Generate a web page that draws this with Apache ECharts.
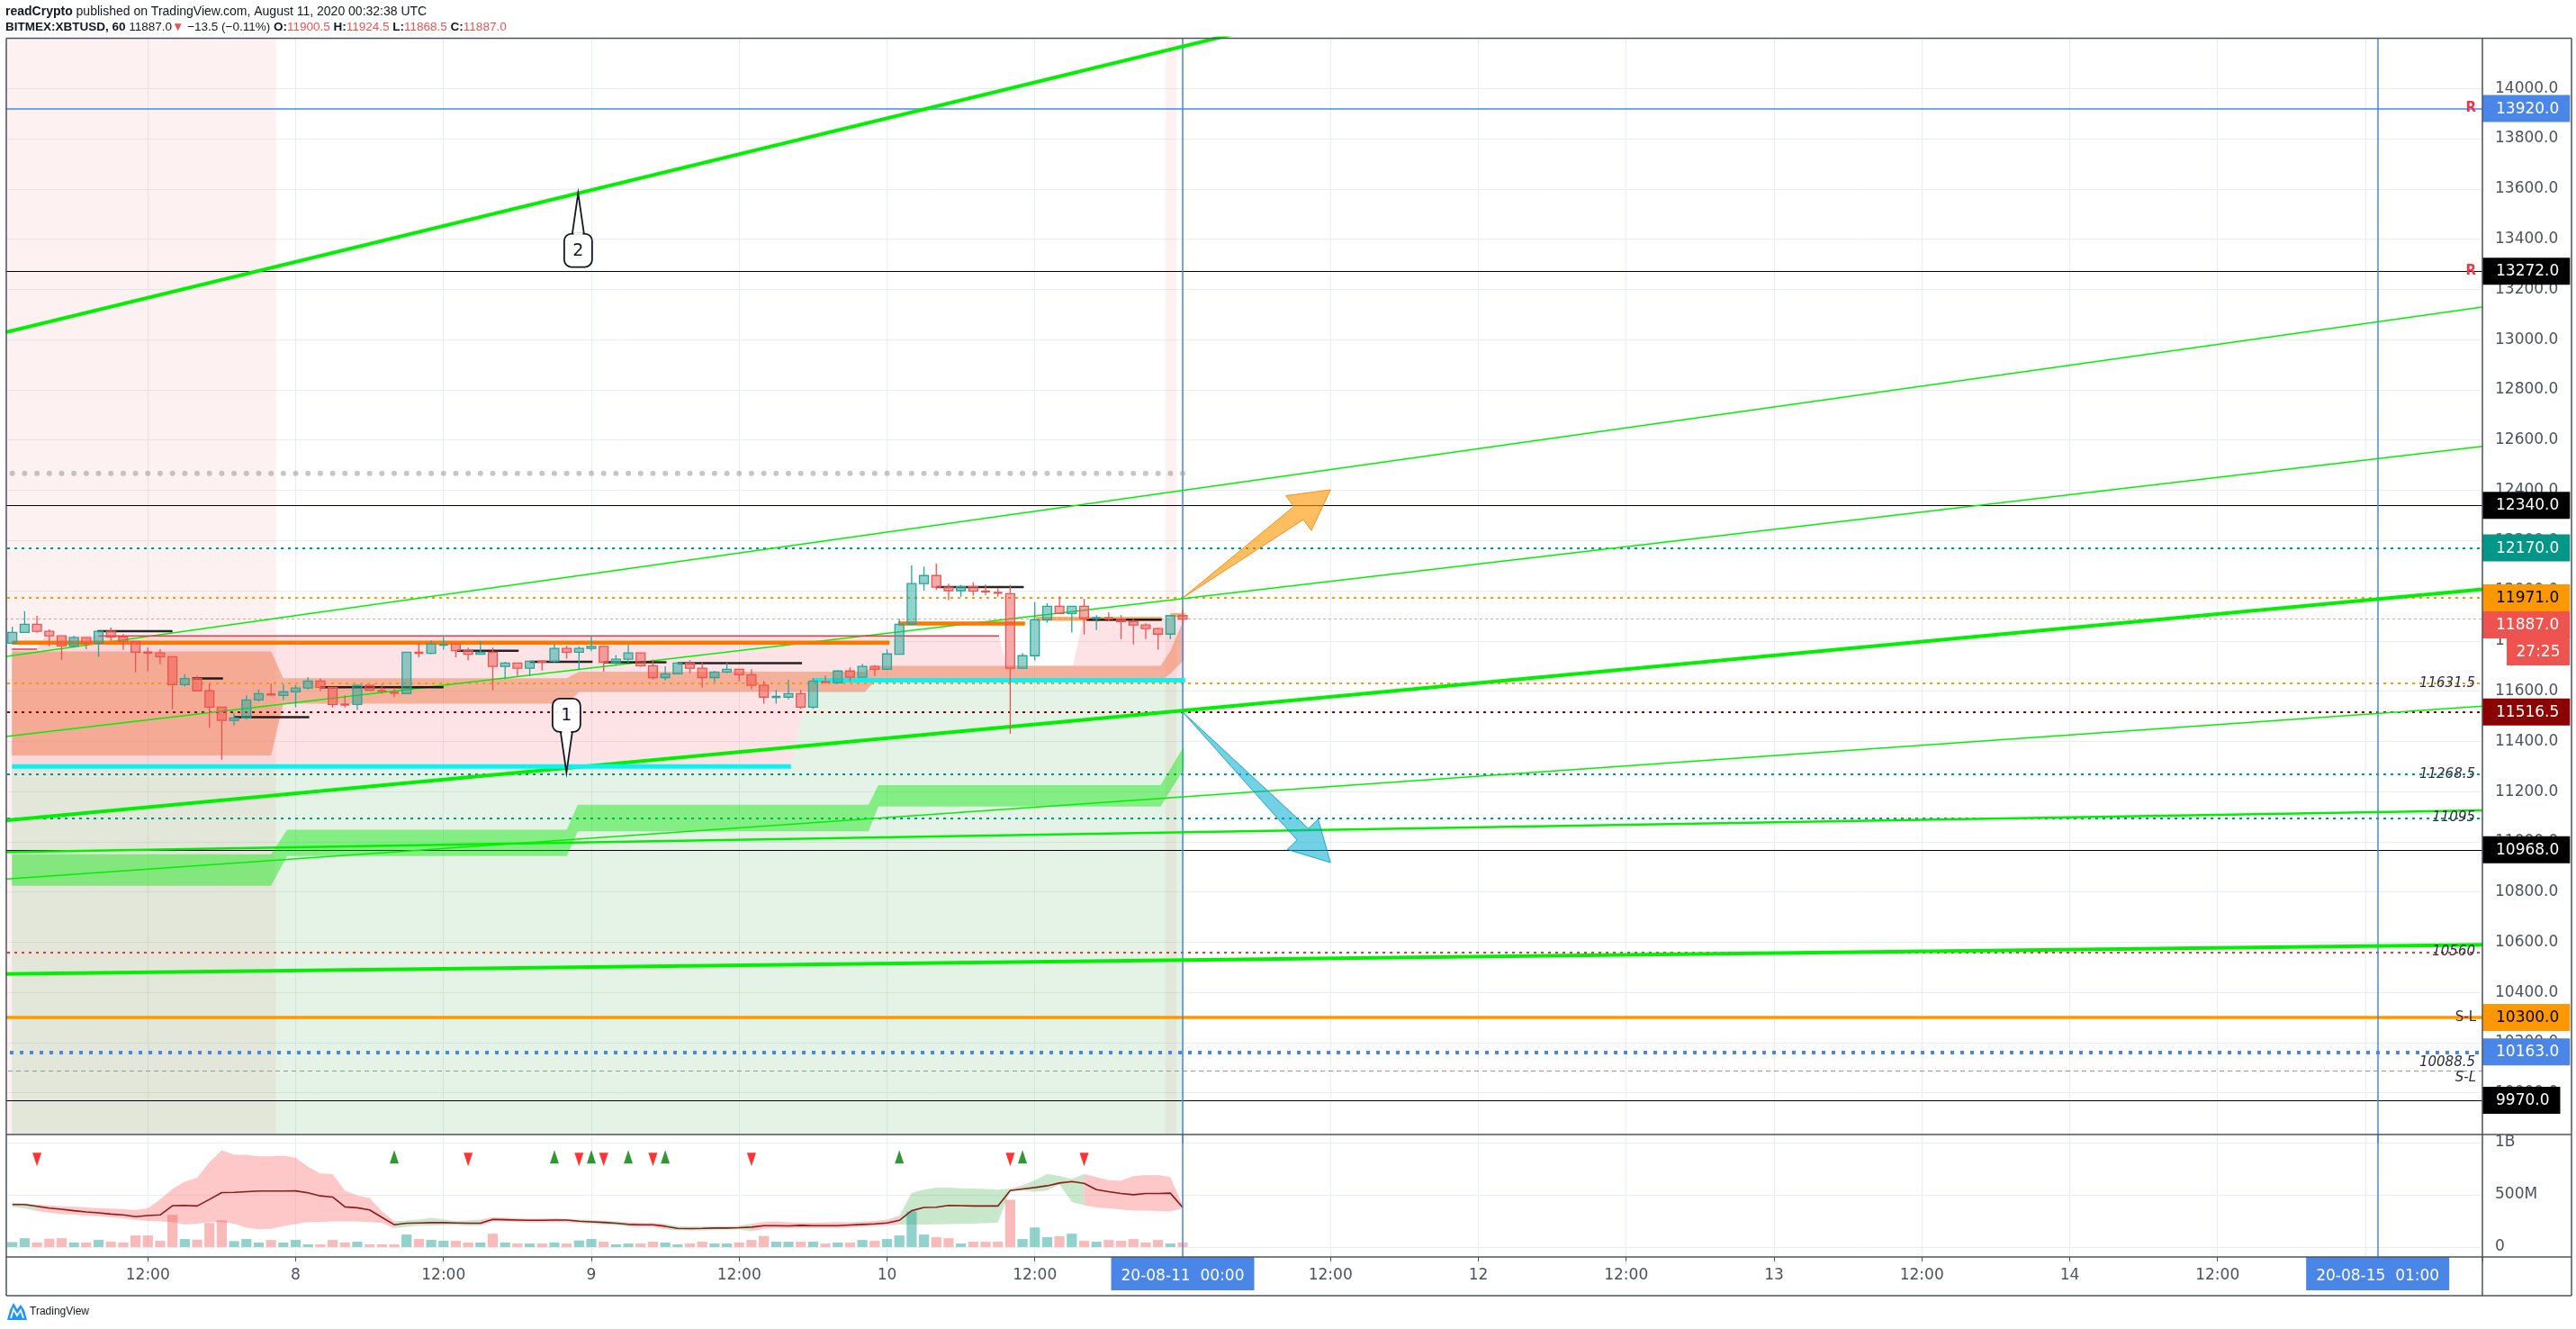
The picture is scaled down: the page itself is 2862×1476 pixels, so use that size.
<!DOCTYPE html>
<html>
<head>
<meta charset="utf-8">
<title>BITMEX:XBTUSD, 60</title>
<script src="https://cdn.jsdelivr.net/npm/echarts@6/dist/echarts.min.js"></script>
<style>
html,body{margin:0;padding:0;background:#ffffff;}
#chart{width:2862px;height:1476px;}
</style>
</head>
<body>
<div id="chart"></div>
<script>
// ================= DATA (x = hours since 2020-08-07 00:00 UTC) =================
const firstCandleHour = 1;
const opens = [11791,11834,11866,11838,11820,11780,11813,11791,11838,11816,
11798,11755,11752,11737,11626,11650,11601,11536,11483,11493,
11565,11590,11583,11597,11612,11640,11615,11547,11547,11623,
11604,11597,11590,11755,11750,11783,11787,11761,11747,11755,
11698,11712,11691,11719,11719,11770,11755,11770,11778,11715,
11727,11752,11701,11654,11669,11712,11691,11654,11676,11687,
11665,11623,11576,11576,11590,11536,11640,11633,11680,11655,
11698,11687,11747,11866,12028,12060,12014,12000,12016,12000,
11995,11988,11691,11741,11884,11938,11909,11938,11888,11893,
11886,11877,11863,11849,11827,11900.5];
const highs = [11857,11918,11900,11846,11820,11820,11813,11838,11853,11828,
11798,11773,11767,11737,11667,11662,11631,11536,11511,11583,
11606,11630,11627,11624,11656,11650,11615,11583,11623,11623,
11626,11613,11755,11795,11802,11821,11792,11773,11800,11773,
11717,11712,11719,11723,11788,11780,11778,11820,11778,11744,
11785,11752,11726,11699,11712,11723,11713,11680,11713,11687,
11687,11640,11605,11644,11605,11651,11662,11683,11694,11709,
11703,11766,11888,12101,12096,12108,12028,12022,12033,12024,
12010,12022,11752,11954,11950,11978,11938,11968,11902,11914,
11902,11888,11870,11852,11899,11924.5];
const lows = [11788,11834,11832,11779,11725,11773,11767,11736,11800,11764,
11675,11679,11707,11528,11618,11601,11453,11327,11463,11486,
11558,11580,11564,11536,11606,11600,11535,11535,11525,11599,
11589,11575,11590,11735,11747,11765,11735,11722,11747,11603,
11648,11660,11660,11682,11714,11729,11684,11759,11677,11703,
11713,11697,11646,11643,11669,11671,11614,11636,11671,11639,
11607,11550,11550,11567,11529,11529,11630,11633,11640,11655,
11660,11687,11747,11866,12000,12003,11962,11976,11980,11982,
11976,11430,11691,11722,11872,11909,11833,11825,11843,11878,
11807,11786,11807,11765,11807,11868.5];
const closes = [11834,11866,11838,11820,11780,11813,11791,11838,11816,11798,
11755,11752,11737,11626,11650,11601,11536,11483,11493,11565,
11590,11583,11597,11612,11640,11615,11547,11546,11623,11603,
11597,11590,11755,11750,11787,11786,11761,11747,11755,11698,
11712,11691,11719,11716,11770,11755,11770,11778,11715,11727,
11752,11701,11654,11669,11712,11691,11654,11676,11687,11665,
11623,11576,11578,11590,11536,11640,11633,11680,11655,11698,
11687,11748,11866,12028,12060,12014,12000,12016,11999,11994,
11988,11691,11741,11884,11938,11909,11938,11888,11893,11886,
11877,11863,11849,11827,11900.5,11887];

// volume (millions) and volume-MA ribbon
const volumesM = [48,85,43,80,85,43,43,68,51,43,
111,111,60,308,77,71,231,256,57,77,
43,68,43,68,26,26,68,43,51,26,
26,26,120,77,68,60,60,43,43,128,
43,34,34,34,43,34,63,77,51,26,
34,34,51,43,26,34,51,34,34,43,
68,105,51,51,51,51,34,43,43,68,
60,77,111,342,120,94,85,34,51,51,
51,453,77,188,94,103,128,60,51,68,
60,77,43,68,34,43];
const volMA = [407,407,390,373,362,348,336,328,316,308,
291,302,308,396,399,393,456,521,524,530,
536,536,536,538,519,490,479,385,376,356,
285,214,228,231,234,234,231,228,228,265,
262,259,256,256,259,259,248,242,236,228,
217,214,214,199,179,177,179,182,182,185,
191,205,205,202,208,205,205,205,211,217,
222,231,256,348,379,382,399,396,393,393,
393,541,556,570,587,613,627,610,550,530,
513,501,513,513,516,379];
const volUpper = [427,419,407,399,390,385,379,373,368,362,
356,370,456,556,627,664,812,926,883,883,
869,869,875,855,769,704,698,541,493,470,
342,248,255,262,280,265,250,255,262,285,
282,275,270,272,276,270,262,258,252,245,
236,232,230,222,200,196,198,200,200,205,
225,240,245,238,235,232,234,240,238,243,
250,262,300,520,550,570,568,562,560,555,
550,560,590,640,700,680,650,700,670,640,
635,680,690,690,670,400];
const volLower = [385,370,345,330,315,310,300,295,285,275,
260,250,245,240,215,225,240,240,225,185,
170,175,200,220,240,240,245,245,245,240,
230,180,195,205,205,210,212,205,205,245,
245,240,238,236,240,240,228,222,215,210,
198,195,195,170,160,160,160,165,168,170,
150,175,180,178,180,182,180,182,188,195,
200,210,215,215,215,218,220,222,225,228,
235,540,540,530,540,600,430,400,380,370,
360,350,350,345,340,370];
const volBandRuns = [['g',2],['p',29],['g',7],['p',8],['g',4],['p',3],['g',7],['p',12],['g',15],['p',9]];
const signalsUp = [32,45,48,51,54,73,83];
const signalsDown = [3,38,47,49,53,61,82,88];
const signalLevelUp = 865, signalLevelDown = 838;

// horizontal levels
const levelPrices = [13920,13272,12340,12170,11971,11887,11631.5,11516.5,11268.5,11095,10968,10560,10300,10163,10088.5,9970];
const levelKinds  = ['blue','black','black','teal','orange','last','orange','darkred','teal','teal','black','red','orangeThick','blueDot','grey','black'];
const tagPrices = [13920,13272,12340,12170,11971,11887,11516.5,10968,10300,10163,9970];
const countdownText = '27:25';
const noteLevels = [[11631.5,'11631.5'],[11268.5,'11268.5'],[11095,'11095'],[10560,'10560'],[10088.5,'10088.5']];
const rMarks = [13920,13272];
const slMarks = [10300,10088.5];
const dotLevel = 12467;
const verticalMarks = [96,193];
const timeTags = [[96,'20-08-11  00:00'],[193,'20-08-15  01:00']];

// trend lines [h0,p0,h1,p1]
const trendLines = [[0,13024,201.5,15424],[0,11735,201.5,13130],[0,11416,201.5,12575],[0,10850,201.5,11540],[0,11083,201.5,12005],[0,10958,201.5,11125],[0,10473,201.5,10590]];
const trendKinds = ['thick','thin','thin','thin','thick','medium','thick'];

// short horizontal segments [h0,h1,price]
const cyanSegs = [[0.97,64.2,11300],[66.0,96.2,11643]];
const orangeSegs = [[0.97,72.2,11793],[72.9,83.2,11869]];
const orangeSoftSegs = [[84.1,94.3,11888],[95.0,96.2,11902]];
const redSegs = [[8.0,81.1,11820],[0.97,3.0,11767]];
const pivotSegs = [[7.9,14.0,11839],[15.6,18.1,11650],[19.0,25.1,11496],[26.0,36.0,11615],[37.1,42.1,11761],[43.0,48.1,11717],[49.0,54.1,11715],[55.0,65.1,11711],[76.0,83.1,12014],[88.2,94.3,11884]];

// shaded regions [h,price]
const sessionBands = [[0,22.4],[94.6,95.5]];
const lightGreenTop = [[0.97,11300],[64.2,11300],[65.1,11509],[66.0,11599],[70.2,11599],[71.0,11640],[96.1,11640]];
const pinkTop = [[0.97,11767],[3.0,11767],[3.65,11820],[81.1,11820],[81.7,11701],[87.1,11701],[87.9,11888],[96.1,11888]];
const salmonTop = [[0.97,11758],[22.0,11758],[23.0,11651],[46.0,11651],[47.0,11677],[70.2,11677],[71.0,11701],[94.2,11701],[95.0,11760],[95.6,11830],[96.1,11885]];
const salmonBottom = [[96.1,11724],[95.0,11670],[94.2,11639],[71.0,11639],[70.2,11597],[47.0,11597],[46.0,11550],[23.0,11550],[22.0,11344],[0.97,11344]];
const greenStepTop = [[0.97,10950],[22.0,10950],[23.3,11048],[46.0,11048],[46.9,11147],[70.5,11147],[71.3,11225],[94.2,11225],[96.1,11380]];
const greenStepBottom = [[96.1,11290],[94.2,11140],[71.3,11140],[70.5,11042],[46.9,11042],[46.0,10943],[23.3,10943],[22.0,10825],[0.97,10825]];

// arrows [h0,p0,h1,p1] and callouts [h,price,label]
const arrows = [[96,11971,108,12402],[96,11516.5,108,10917]];
const callouts = [[45.98,11276,'1'],[46.93,13583,'2']];

// ================= LAYOUT / STYLE =================
const X_MAX = 201.5, Y_MIN = 9800, Y_MAX = 14200, PANE_BOTTOM_PRICE = 9834;
const FR = {L:7, R:2857, T:42.5, SEP1:1260, SEP2:1396, B:1439, AX:2758};
const AXIS_COLOR = '#4c525e', GRID_COLOR = '#e8eef3';
const FONT = '"DejaVu Sans", Verdana, sans-serif';
const HFONT = '"Liberation Sans", Arial, sans-serif';
const TAG_FONT = '17px ' + FONT;
const TAG_H = 30;
const GREEN = '#00f000';
const LEVEL_STYLE = {
  blue:{line:{color:'#4a86e8',width:1.5,type:'solid'},tag:['#4a86e8','#ffffff']},
  black:{line:{color:'#000000',width:1.2,type:'solid'},tag:['#000000','#ffffff']},
  teal:{line:{color:'#009688',width:2,type:[3,5]},tag:['#009688','#ffffff']},
  orange:{line:{color:'#ff9800',width:2,type:[3,5]},tag:['#ff9800','#000000']},
  last:{line:{color:'rgba(239,83,80,0.55)',width:1,type:[3,3]},tag:['#ef5350','#ffffff']},
  darkred:{line:{color:'#8b0000',width:2,type:[3,5]},tag:['#8b0000','#ffffff']},
  red:{line:{color:'#e53935',width:2,type:[3,5]}},
  orangeThick:{line:{color:'#ff9800',width:3.5,type:'solid'},tag:['#ff9800','#000000']},
  blueDot:{line:{color:'#4a86e8',width:4,type:[4,7]},tag:['#4a86e8','#ffffff']},
  grey:{line:{color:'#9598a1',width:1,type:[5,4]}}
};
const TREND_W = {thick:4, medium:2.5, thin:1.5};

const measureCtx = document.createElement('canvas').getContext('2d');
function textW(t, font){ measureCtx.font = font; return measureCtx.measureText(t).width; }
function kindOf(p){ return levelKinds[levelPrices.indexOf(p)]; }
const hourOf = i => firstCandleHour + i;

function polySeries(points, fill, z, xi, yi){
  return {type:'custom', xAxisIndex:xi||0, yAxisIndex:yi||0, z:z, silent:true, clip:true,
    data:[[points[0][0], points[0][1]]],
    renderItem:function(params, api){
      return {type:'polygon', shape:{points:points.map(p=>api.coord(p))}, style:{fill:fill}};
    }};
}
function segSeries(segs, style, z){
  return {type:'custom', xAxisIndex:0, yAxisIndex:0, z:z, silent:true, clip:true,
    data:segs.map(s=>[s[0], s[2]]),
    renderItem:function(params, api){
      const s = segs[params.dataIndex];
      const a = api.coord([s[0], s[2]]), b = api.coord([s[1], s[2]]);
      return {type:'line', shape:{x1:a[0],y1:a[1],x2:b[0],y2:b[1]}, style:Object.assign({}, style)};
    }};
}
function txt(x, y, text, font, fill, align, valign){
  return {type:'text', x:x, y:y, style:{text:text, font:font, fill:fill, align:align, textAlign:align, verticalAlign:valign, textVerticalAlign:valign}};
}

const series = [];

// background regions
sessionBands.forEach(b => series.push(polySeries([[b[0],PANE_BOTTOM_PRICE],[b[1],PANE_BOTTOM_PRICE],[b[1],Y_MAX],[b[0],Y_MAX]], 'rgba(242,54,69,0.07)', 1)));
series.push(polySeries(lightGreenTop.concat([[96.1,PANE_BOTTOM_PRICE],[0.97,PANE_BOTTOM_PRICE]]), 'rgba(76,175,80,0.15)', 2));
series.push(polySeries(pinkTop.concat(lightGreenTop.slice().reverse()), 'rgba(242,54,69,0.14)', 3));
series.push(polySeries(salmonTop.concat(salmonBottom), 'rgba(236,125,80,0.5)', 4));
series.push(polySeries(greenStepTop.concat(greenStepBottom), 'rgba(0,230,0,0.42)', 5));

// dots + horizontal levels + vertical markers
series.push({type:'scatter', xAxisIndex:0, yAxisIndex:0, z:6, silent:true,
  symbol:'circle', symbolSize:6, itemStyle:{color:'rgba(160,160,160,0.75)'},
  data: opens.map((o,i)=>[hourOf(i), dotLevel]),
  markLine:{silent:true, symbol:['none','none'], animation:false, label:{show:false},
    data: levelPrices.map((p,i)=>({yAxis:p, lineStyle:Object.assign({}, LEVEL_STYLE[levelKinds[i]].line)}))
      .concat(verticalMarks.map(h=>({xAxis:h, lineStyle:{color:'#4a86e8', width:1.5, type:'solid'}})))}
});

// trend lines
trendLines.forEach((t,i)=>series.push({type:'line', xAxisIndex:0, yAxisIndex:0, z:7, silent:true, symbol:'none',
  clip:true, lineStyle:{color:GREEN, width:TREND_W[trendKinds[i]]}, data:[[t[0],t[1]],[t[2],t[3]]]}));

// segments
series.push(segSeries(cyanSegs, {stroke:'#0ff0f0', lineWidth:5}, 8));
series.push(segSeries(orangeSegs, {stroke:'#ff7700', lineWidth:4.5}, 8));
series.push(segSeries(orangeSoftSegs, {stroke:'rgba(255,119,0,0.6)', lineWidth:4.5}, 8));
series.push(segSeries(redSegs, {stroke:'#f23645', lineWidth:1.5}, 8));
series.push(segSeries(pivotSegs, {stroke:'rgba(0,0,0,0.85)', lineWidth:2.5}, 9));

// candles
series.push({type:'custom', xAxisIndex:0, yAxisIndex:0, z:10, silent:true, clip:true,
  data: opens.map((o,i)=>[hourOf(i), o, closes[i], lows[i], highs[i]]),
  renderItem:function(params, api){
    const x = api.value(0), o = api.value(1), c = api.value(2), l = api.value(3), h = api.value(4);
    const up = c >= o;
    const px = api.coord([x, o])[0];
    const yo = api.coord([x,o])[1], yc = api.coord([x,c])[1], yl = api.coord([x,l])[1], yh = api.coord([x,h])[1];
    const top = Math.min(yo,yc), bot = Math.max(yo,yc);
    const w = api.size([1,0])[0]*0.72;
    const col = up ? '#26a69a' : '#ef5350';
    const fill = up ? 'rgba(38,166,154,0.5)' : 'rgba(239,83,80,0.5)';
    const ch = [];
    if (yh < top) ch.push({type:'line', shape:{x1:px,y1:yh,x2:px,y2:top}, style:{stroke:col, lineWidth:1.3}});
    if (yl > bot) ch.push({type:'line', shape:{x1:px,y1:bot,x2:px,y2:yl}, style:{stroke:col, lineWidth:1.3}});
    if (bot - top < 2) {
      ch.push({type:'rect', shape:{x:px-w/2, y:(top+bot)/2-1.2, width:w, height:2.4}, style:{fill:col}});
    } else {
      ch.push({type:'rect', shape:{x:px-w/2, y:top, width:w, height:bot-top}, style:{fill:fill, stroke:col, lineWidth:1.3}});
    }
    return {type:'group', children:ch};
  }});

// arrows
const ARROW_FILL = ['rgba(255,152,0,0.62)','rgba(0,172,210,0.55)'];
const ARROW_STROKE = ['rgba(245,124,0,0.8)','rgba(0,151,190,0.8)'];
series.push({type:'custom', xAxisIndex:0, yAxisIndex:0, z:11, silent:true, clip:true,
  data: arrows.map(a=>[a[0],a[1]]),
  renderItem:function(params, api){
    const a = arrows[params.dataIndex];
    const S = api.coord([a[0],a[1]]), T = api.coord([a[2],a[3]]);
    const dx = T[0]-S[0], dy = T[1]-S[1], L = Math.hypot(dx,dy);
    const ux = dx/L, uy = dy/L, nx = -uy, ny = ux;
    const headLen = 44, neck = 9, head = 24;
    const N = [T[0]-ux*headLen, T[1]-uy*headLen];
    const pts = [S,[N[0]+nx*neck,N[1]+ny*neck],[N[0]+nx*head,N[1]+ny*head],T,[N[0]-nx*head,N[1]-ny*head],[N[0]-nx*neck,N[1]-ny*neck]];
    return {type:'polygon', shape:{points:pts}, style:{fill:ARROW_FILL[params.dataIndex], stroke:ARROW_STROKE[params.dataIndex], lineWidth:1}};
  }});

// callouts
series.push({type:'custom', xAxisIndex:0, yAxisIndex:0, z:12, silent:true, clip:false,
  data: callouts.map(c=>[c[0],c[1]]),
  renderItem:function(params, api){
    const c = callouts[params.dataIndex];
    const tip = api.coord([c[0], c[1]]);
    const below = c[2] === '2';
    const bw = 31, bh = 37, gap = 45;
    const boxTop = below ? tip[1] + gap : tip[1] - gap - bh;
    const edgeY = below ? boxTop : boxTop + bh;
    const fill = 'rgba(255,255,255,0.9)';
    return {type:'group', children:[
      {type:'polygon', shape:{points:[[tip[0]-6.5,edgeY],[tip[0],tip[1]],[tip[0]+6.5,edgeY]]}, style:{fill:fill, stroke:'#131722', lineWidth:1.8}},
      {type:'rect', shape:{x:tip[0]-bw/2, y:boxTop, width:bw, height:bh, r:8}, style:{fill:fill, stroke:'#131722', lineWidth:1.8}},
      {type:'line', shape:{x1:tip[0]-5, y1:edgeY, x2:tip[0]+5, y2:edgeY}, style:{stroke:'#ffffff', lineWidth:2.5}},
      txt(tip[0], boxTop+bh/2+1, c[2], '19px '+FONT, '#131722', 'center', 'middle')
    ]};
  }});

// italic notes, R and S-L marks
series.push({type:'custom', xAxisIndex:0, yAxisIndex:0, z:25, silent:true, clip:false,
  data: noteLevels.map(n=>[0,n[0]]),
  renderItem:function(params, api){
    const n = noteLevels[params.dataIndex];
    const y = api.coord([0, n[0]])[1];
    const x = params.coordSys.x + params.coordSys.width - 8;
    const hasSL = slMarks.indexOf(n[0]) >= 0;
    return txt(x, hasSL ? y-1 : y, n[1], 'italic 15px '+FONT, '#2a2e39', 'right', hasSL ? 'bottom' : 'middle');
  }});
series.push({type:'custom', xAxisIndex:0, yAxisIndex:0, z:25, silent:true, clip:false,
  data: rMarks.map(p=>[0,p]),
  renderItem:function(params, api){
    const y = api.coord([0, rMarks[params.dataIndex]])[1];
    const x = params.coordSys.x + params.coordSys.width - 7;
    return txt(x, y, 'R', 'bold 15px '+FONT, '#f23645', 'right', 'middle');
  }});
series.push({type:'custom', xAxisIndex:0, yAxisIndex:0, z:25, silent:true, clip:false,
  data: slMarks.map(p=>[0,p]),
  renderItem:function(params, api){
    const p = slMarks[params.dataIndex];
    const y = api.coord([0, p])[1];
    const x = params.coordSys.x + params.coordSys.width - 7;
    const isNote = noteLevels.some(n=>n[0]===p);
    return isNote ? txt(x, y+1, 'S-L', 'italic 15px '+FONT, '#2a2e39', 'right', 'top')
                  : txt(x, y, 'S-L', '15px '+FONT, '#2a2e39', 'right', 'middle');
  }});

// price tags on the axis
function layoutTags(api){
  const items = tagPrices.map((p,i)=>({i:i, y:api.coord([0,p])[1]}));
  items.sort((a,b)=>a.y-b.y);
  for (let k=1;k<items.length;k++){ if (items[k].y - items[k-1].y < TAG_H) items[k].y = items[k-1].y + TAG_H; }
  const out = []; items.forEach(it=>{ out[it.i] = it.y; }); return out;
}
series.push({type:'custom', xAxisIndex:0, yAxisIndex:0, z:30, silent:true, clip:false,
  data: tagPrices.map(p=>[0,p]),
  renderItem:function(params, api){
    const i = params.dataIndex, p = tagPrices[i];
    const ys = layoutTags(api), y = ys[i];
    const st = LEVEL_STYLE[kindOf(p)].tag;
    const text = p.toFixed(1);
    const w = textW(text, TAG_FONT);
    const x0 = params.coordSys.x + params.coordSys.width;
    const ch = [
      {type:'rect', shape:{x:x0, y:y-TAG_H/2, width:15+w+12, height:TAG_H}, style:{fill:st[0]}},
      txt(x0+15, y+0.5, text, TAG_FONT, st[1], 'left', 'middle')
    ];
    if (p === closes[closes.length-1]) {
      const cw = textW(countdownText, TAG_FONT) + 21;
      const right = FR.R - 2;
      ch.push({type:'rect', shape:{x:right-cw, y:y+TAG_H/2, width:cw, height:TAG_H}, style:{fill:st[0]}});
      ch.push(txt(right-cw/2, y+TAG_H+0.5, countdownText, TAG_FONT, '#ffffff', 'center', 'middle'));
    }
    return {type:'group', children:ch};
  }});

// ---------- volume pane ----------
const bandPolys = [];
(function(){ let s = 0; volBandRuns.forEach(r=>{ bandPolys.push({c:r[0], s:s, e:Math.min(s+r[1], volUpper.length-1)}); s += r[1]; }); })();
series.push({type:'custom', xAxisIndex:2, yAxisIndex:2, z:2, silent:true, clip:true,
  data: bandPolys.map(b=>[hourOf(b.s), 0]),
  renderItem:function(params, api){
    const b = bandPolys[params.dataIndex];
    const pts = [];
    for (let k=b.s;k<=b.e;k++) pts.push(api.coord([hourOf(k), volUpper[k]]));
    for (let k=b.e;k>=b.s;k--) pts.push(api.coord([hourOf(k), volLower[k]]));
    return {type:'polygon', shape:{points:pts}, style:{fill: b.c==='g' ? 'rgba(76,175,80,0.3)' : 'rgba(255,110,110,0.38)'}};
  }});
series.push({type:'custom', xAxisIndex:2, yAxisIndex:2, z:3, silent:true, clip:true,
  data: volumesM.map((v,i)=>[hourOf(i), v]),
  renderItem:function(params, api){
    const i = params.dataIndex;
    const up = closes[i] >= opens[i];
    const a = api.coord([api.value(0), api.value(1)]), z0 = api.coord([api.value(0), 0]);
    const w = api.size([1,0])[0]*0.82;
    return {type:'rect', shape:{x:a[0]-w/2, y:a[1], width:w, height:z0[1]-a[1]}, style:{fill: up ? 'rgba(38,166,154,0.5)' : 'rgba(239,83,80,0.4)'}};
  }});
series.push({type:'line', xAxisIndex:2, yAxisIndex:2, z:4, silent:true, symbol:'none',
  lineStyle:{color:'#8b1a1a', width:1.6}, data: volMA.map((v,i)=>[hourOf(i), v])});
series.push({type:'scatter', xAxisIndex:2, yAxisIndex:2, z:5, silent:true, symbol:'triangle', symbolSize:[10,15],
  itemStyle:{color:'#007a00'}, data: signalsUp.map(h=>[h, signalLevelUp])});
series.push({type:'scatter', xAxisIndex:2, yAxisIndex:2, z:5, silent:true, symbol:'triangle', symbolSize:[10,15], symbolRotate:180,
  itemStyle:{color:'#ff0000'}, data: signalsDown.map(h=>[h, signalLevelDown])});

// time tags + vertical markers in volume pane
series.push({type:'custom', xAxisIndex:1, yAxisIndex:1, z:30, silent:true, clip:false,
  data: timeTags.map(t=>[t[0], 0.5]),
  markLine:{silent:true, symbol:['none','none'], animation:false, label:{show:false},
    data: verticalMarks.map(h=>({xAxis:h, lineStyle:{color:'#4a86e8', width:1.5, type:'solid'}}))},
  renderItem:function(params, api){
    const t = timeTags[params.dataIndex];
    const x = api.coord([t[0], 0.5])[0];
    const w = textW(t[1], TAG_FONT) + 22;
    const y0 = params.coordSys.y + params.coordSys.height;
    return {type:'group', children:[
      {type:'rect', shape:{x:x-w/2, y:y0, width:w, height:37}, style:{fill:'#4a86e8'}},
      txt(x, y0+22, t[1], TAG_FONT, '#ffffff', 'center', 'middle')
    ]};
  }});

// ---------- axes ----------
const lbl = {color:AXIS_COLOR, fontSize:17, fontFamily:FONT};
const option = {
  animation:false,
  backgroundColor:'#ffffff',
  textStyle:{fontFamily:FONT},
  grid:[
    {left:0, top:FR.T, width:FR.AX, height:1227, containLabel:false, outerBoundsMode:'none'},
    {left:0, top:FR.SEP1, width:FR.AX, height:FR.SEP2-FR.SEP1, containLabel:false, outerBoundsMode:'none'},
    {left:0, top:1269, width:FR.AX, height:116, containLabel:false, outerBoundsMode:'none'}
  ],
  xAxis:[
    {type:'value', gridIndex:0, min:0, max:X_MAX, interval:12, axisLine:{show:false}, axisTick:{show:false}, axisLabel:{show:false},
      splitLine:{show:true, lineStyle:{color:GRID_COLOR, width:1}}},
    {type:'value', gridIndex:1, min:0, max:X_MAX, interval:12, position:'bottom', axisLine:{show:false},
      axisTick:{show:true, length:5, lineStyle:{color:AXIS_COLOR}},
      axisLabel:Object.assign({show:true, margin:12, showMinLabel:true, showMaxLabel:true, hideOverlap:false,
        formatter:function(v){
          if (v <= 0 || Math.abs(v % 12) > 1e-6) return '';
          if (verticalMarks.some(h=>Math.abs(h - v) < 2)) return '';
          return (v % 24 === 0) ? String(7 + v/24) : '12:00';
        }}, lbl),
      splitLine:{show:true, lineStyle:{color:GRID_COLOR, width:1}}},
    {type:'value', gridIndex:2, min:0, max:X_MAX, show:false}
  ],
  yAxis:[
    {type:'value', gridIndex:0, position:'right', min:Y_MIN, max:Y_MAX, interval:200, axisLine:{show:false},
      axisTick:{show:true, length:6, lineStyle:{color:AXIS_COLOR}},
      axisLabel:Object.assign({show:true, margin:14, hideOverlap:false, showMinLabel:true, showMaxLabel:true,
        formatter:function(v){ return (v > Y_MIN && v < Y_MAX && Math.abs(v % 200) < 1e-6) ? v.toFixed(1) : ''; }}, lbl),
      splitLine:{show:true, lineStyle:{color:GRID_COLOR, width:1}}},
    {type:'value', gridIndex:1, min:0, max:1, show:false},
    {type:'value', gridIndex:2, position:'right', min:0, max:1000, interval:500, axisLine:{show:false},
      axisTick:{show:true, length:6, lineStyle:{color:AXIS_COLOR}},
      axisLabel:Object.assign({show:true, margin:14, hideOverlap:false,
        formatter:function(v){ return v === 0 ? '0' : (v === 500 ? '500M' : (v === 1000 ? '1B' : '')); }}, lbl),
      splitLine:{show:true, lineStyle:{color:GRID_COLOR, width:1}}}
  ],
  series: series,
  graphic:[
    {type:'rect', z:90, silent:true, shape:{x:0, y:0, width:FR.L-0.5, height:1476}, style:{fill:'#ffffff'}},
    {type:'line', z:100, silent:true, shape:{x1:FR.L, y1:FR.T, x2:FR.R, y2:FR.T}, style:{stroke:AXIS_COLOR, lineWidth:1.5}},
    {type:'line', z:100, silent:true, shape:{x1:FR.L, y1:FR.B, x2:FR.R, y2:FR.B}, style:{stroke:AXIS_COLOR, lineWidth:1.5}},
    {type:'line', z:100, silent:true, shape:{x1:FR.L, y1:FR.T, x2:FR.L, y2:FR.B}, style:{stroke:AXIS_COLOR, lineWidth:1.5}},
    {type:'line', z:100, silent:true, shape:{x1:FR.R, y1:FR.T, x2:FR.R, y2:FR.B}, style:{stroke:AXIS_COLOR, lineWidth:1.5}},
    {type:'line', z:100, silent:true, shape:{x1:FR.AX, y1:FR.T, x2:FR.AX, y2:FR.B}, style:{stroke:AXIS_COLOR, lineWidth:1.5}},
    {type:'line', z:100, silent:true, shape:{x1:FR.L, y1:FR.SEP1, x2:FR.R, y2:FR.SEP1}, style:{stroke:AXIS_COLOR, lineWidth:1.5}},
    {type:'line', z:100, silent:true, shape:{x1:FR.L, y1:FR.SEP2, x2:FR.R, y2:FR.SEP2}, style:{stroke:AXIS_COLOR, lineWidth:1.5}},
    {type:'text', z:100, silent:true, x:6, y:13, style:{
      text:'{b|readCrypto} published on TradingView.com, August 11, 2020 00:32:38 UTC',
      font:'14px ' + HFONT, fill:'#131722', verticalAlign:'middle', textVerticalAlign:'middle',
      rich:{b:{fontWeight:'bold', fontSize:14, fontFamily:HFONT, fill:'#131722', color:'#131722'}}}},
    {type:'text', z:100, silent:true, x:6, y:30, style:{
      text:'{b|BITMEX:XBTUSD, 60} 11887.0{r|▼} −13.5 (−0.11%) {b|O:}{r|11900.5} {b|H:}{r|11924.5} {b|L:}{r|11868.5} {b|C:}{r|11887.0}',
      font:'13.5px ' + HFONT, fill:'#131722', verticalAlign:'middle', textVerticalAlign:'middle',
      rich:{b:{fontWeight:'bold', fontSize:13.5, fontFamily:HFONT, fill:'#131722', color:'#131722'},
            r:{fontSize:13.5, fontFamily:HFONT, fill:'#ef5350', color:'#ef5350'}}}},
    {type:'polygon', z:100, silent:true, shape:{points:[[8,1466],[11,1455],[15,1447],[19,1454],[23,1449],[27,1455],[30,1466]]}, style:{fill:'#2196f3'}},
    {type:'polyline', z:101, silent:true, shape:{points:[[12,1464],[15,1454],[19,1461],[23,1455],[26,1464]]}, style:{stroke:'#ffffff', lineWidth:1.8, fill:null}},
    {type:'text', z:100, silent:true, x:33, y:1457, style:{text:'TradingView', font:'12px ' + HFONT, fill:'#131722', verticalAlign:'middle', textVerticalAlign:'middle'}}
  ]
};

const chart = echarts.init(document.getElementById('chart'), null, {renderer:'canvas'});
chart.setOption(option);
</script>
</body>
</html>
